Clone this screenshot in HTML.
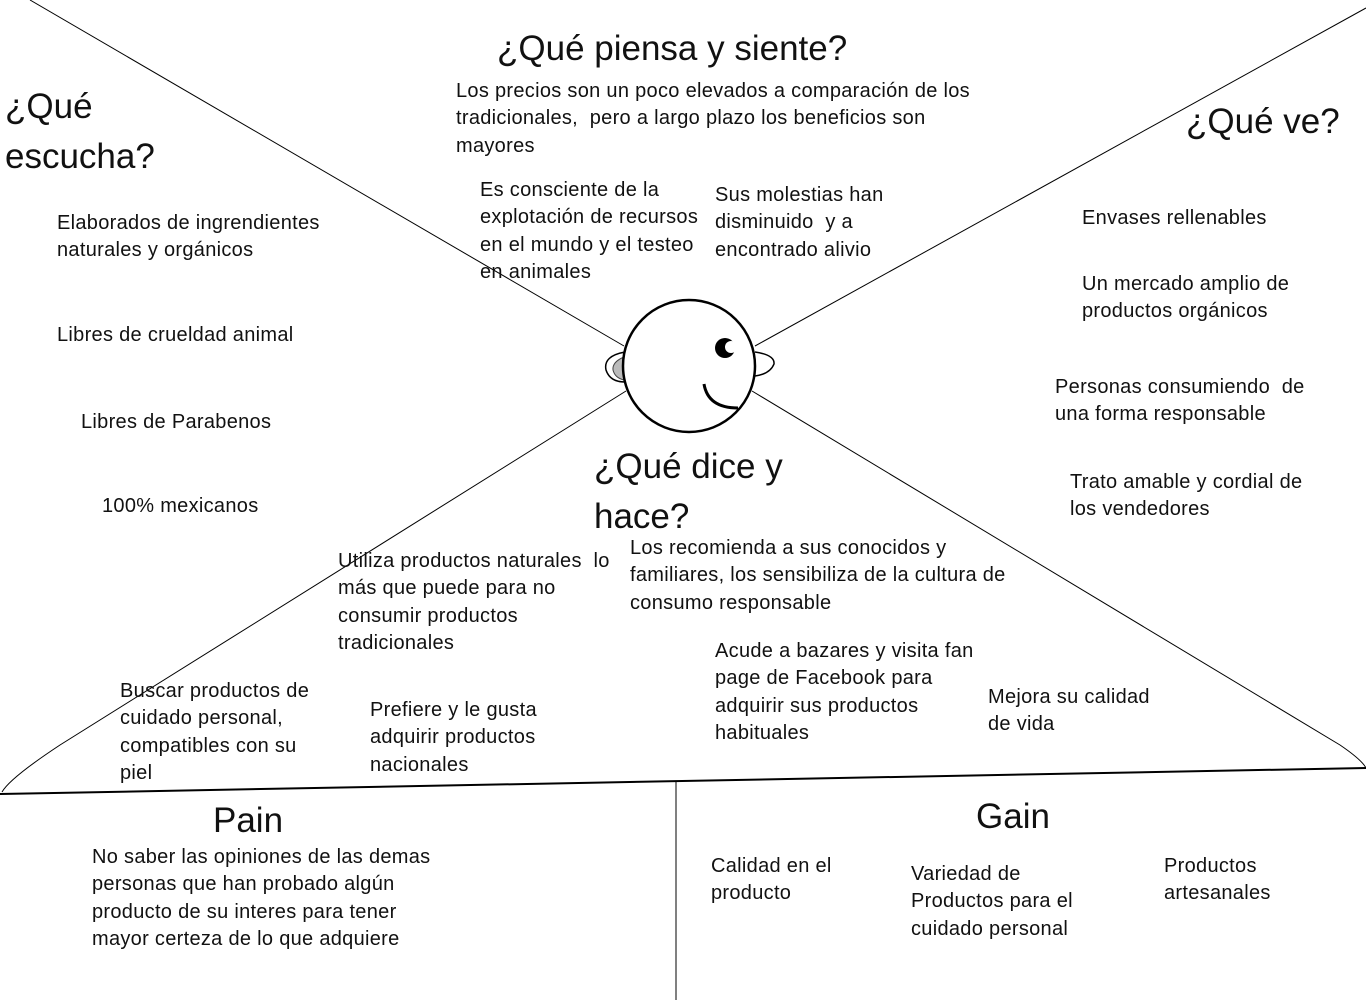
<!DOCTYPE html>
<html><head><meta charset="utf-8"><style>
html,body{margin:0;padding:0;background:#fff;}
body{width:1366px;height:1000px;position:relative;overflow:hidden;font-family:"Liberation Sans","DejaVu Sans",sans-serif;color:#111;}
.t{position:absolute;font-size:20px;line-height:27.3px;white-space:nowrap;letter-spacing:0.3px;margin-top:2px;}
.h{position:absolute;font-size:35px;line-height:50px;white-space:nowrap;margin-top:1px;}
svg{position:absolute;left:0;top:0;}
</style></head><body>
<svg width="1366" height="1000" viewBox="0 0 1366 1000">
<g stroke="#000" fill="none" stroke-width="1">
<line x1="30" y1="0" x2="624" y2="346"/>
<line x1="1366" y1="8" x2="755" y2="346"/>
<path d="M626 391 L60 745 Q10 778 2 792"/>
<path d="M752 391 L1340 745 Q1362 760 1366 768"/>
<line x1="676" y1="782" x2="676" y2="1000"/>
</g>
<path d="M0 794 L1366 768" stroke="#000" stroke-width="2" fill="none"/>
<path d="M625 352 Q603 356 606 370 Q610 382 625 382" stroke="#000" stroke-width="1.5" fill="#fff"/>
<path d="M624 357 Q612 362 613 370 Q615 378 624 380 Z" fill="#bbb" stroke="#444" stroke-width="1"/>
<path d="M755 352 Q775 355 774 364 Q770 374 755 376" stroke="#000" stroke-width="1.5" fill="#fff"/>
<circle cx="689" cy="366" r="66" stroke="#000" stroke-width="2.5" fill="#fff"/>
<circle cx="725" cy="348" r="10" fill="#000"/>
<circle cx="731" cy="347" r="6" fill="#fff"/>
<path d="M704 384 Q708 408 738 408" stroke="#000" stroke-width="3" fill="none"/>
</svg>

<div class="h" style="left:497px;top:23px;">¿Qué piensa y siente?</div>
<div class="h" style="left:5px;top:81px;line-height:50px;">¿Qué<br>escucha?</div>
<div class="h" style="left:1186px;top:96px;">¿Qué ve?</div>
<div class="h" style="left:594px;top:441px;">¿Qué dice y<br>hace?</div>
<div class="h" style="left:213px;top:795px;">Pain</div>
<div class="h" style="left:976px;top:791px;">Gain</div>

<div class="t" style="left:456px;top:76px;">Los precios son un poco elevados a comparación de los<br>tradicionales,&nbsp; pero a largo plazo los beneficios son<br>mayores</div>
<div class="t" style="left:480px;top:175px;">Es consciente de la<br>explotación de recursos<br>en el mundo y el testeo<br>en animales</div>
<div class="t" style="left:715px;top:180px;">Sus molestias han<br>disminuido&nbsp; y a<br>encontrado alivio</div>

<div class="t" style="left:57px;top:208px;">Elaborados de ingrendientes<br>naturales y orgánicos</div>
<div class="t" style="left:57px;top:320px;">Libres de crueldad animal</div>
<div class="t" style="left:81px;top:407px;">Libres de Parabenos</div>
<div class="t" style="left:102px;top:491px;">100% mexicanos</div>

<div class="t" style="left:1082px;top:203px;">Envases rellenables</div>
<div class="t" style="left:1082px;top:269px;">Un mercado amplio de<br>productos orgánicos</div>
<div class="t" style="left:1055px;top:372px;">Personas consumiendo&nbsp; de<br>una forma responsable</div>
<div class="t" style="left:1070px;top:467px;">Trato amable y cordial de<br>los vendedores</div>

<div class="t" style="left:338px;top:546px;">Utiliza productos naturales&nbsp; lo<br>más que puede para no<br>consumir productos<br>tradicionales</div>
<div class="t" style="left:630px;top:533px;">Los recomienda a sus conocidos y<br>familiares, los sensibiliza de la cultura de<br>consumo responsable</div>
<div class="t" style="left:715px;top:636px;">Acude a bazares y visita fan<br>page de Facebook para<br>adquirir sus productos<br>habituales</div>
<div class="t" style="left:988px;top:682px;">Mejora su calidad<br>de vida</div>
<div class="t" style="left:120px;top:676px;">Buscar productos de<br>cuidado personal,<br>compatibles con su<br>piel</div>
<div class="t" style="left:370px;top:695px;">Prefiere y le gusta<br>adquirir productos<br>nacionales</div>

<div class="t" style="left:92px;top:842px;">No saber las opiniones de las demas<br>personas que han probado algún<br>producto de su interes para tener<br>mayor certeza de lo que adquiere</div>
<div class="t" style="left:711px;top:851px;">Calidad en el<br>producto</div>
<div class="t" style="left:911px;top:859px;">Variedad de<br>Productos para el<br>cuidado personal</div>
<div class="t" style="left:1164px;top:851px;">Productos<br>artesanales</div>
</body></html>
